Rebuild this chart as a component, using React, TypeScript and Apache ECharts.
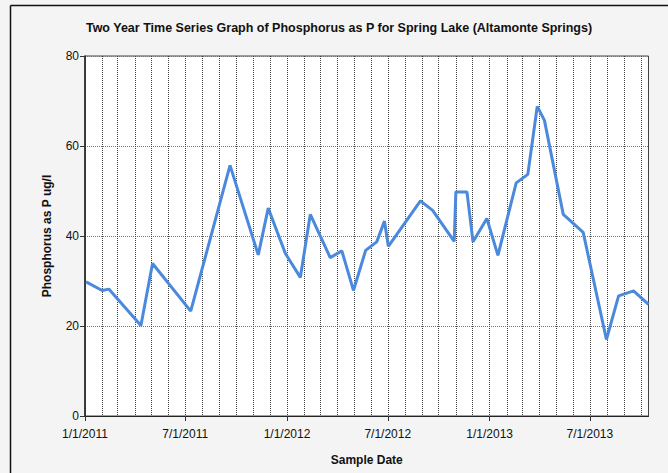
import React, { useEffect, useRef } from "react";
import * as echarts from "echarts";

const sampleDates = [
  "2011-01-03", "2011-02-01", "2011-02-13", "2011-04-12", "2011-05-03", "2011-07-11",
  "2011-09-20", "2011-11-10", "2011-11-28", "2011-12-29", "2012-01-25", "2012-02-12",
  "2012-03-19", "2012-04-09", "2012-04-30", "2012-05-22", "2012-06-11", "2012-06-25",
  "2012-07-02", "2012-08-29", "2012-09-20", "2012-10-29", "2012-11-01", "2012-11-21",
  "2012-12-02", "2012-12-27", "2013-01-16", "2013-02-18", "2013-03-11", "2013-03-28",
  "2013-04-10", "2013-05-14", "2013-06-19", "2013-07-31", "2013-08-22", "2013-09-18",
  "2013-10-15",
];
const phosphorus = [
  29.8, 27.9, 28.2, 20.1, 33.9, 23.3,
  55.7, 35.8, 46.2, 36.1, 30.8, 44.8,
  35.2, 36.7, 27.9, 36.8, 38.7, 43.3,
  37.7, 47.8, 45.7, 38.8, 49.8, 49.8,
  38.7, 43.9, 35.7, 51.8, 53.7, 68.8,
  65.7, 44.8, 40.8, 17.0, 26.7, 27.8,
  24.8,
];
const xMin = "2011-01-01";
const xMax = "2013-10-15";
const yTicks = [0, 20, 40, 60, 80];

const DAY = 24 * 3600 * 1000;
const FONT = "Liberation Sans, Arial, sans-serif";

export default function App() {
  const ref = useRef<HTMLDivElement>(null);
  useEffect(() => {
    if (!ref.current) return;
    const chart = echarts.init(ref.current, undefined, { renderer: "svg" });
    const data = sampleDates.map((d, i) => [d, phosphorus[i]]);
    chart.setOption({
      animation: false,
      backgroundColor: "#f4f4f4",
      textStyle: { fontFamily: FONT },
      graphic: [
        {
          type: "text",
          x: 339,
          y: 21,
          style: {
            text: "Two Year Time Series Graph of Phosphorus as P for Spring Lake (Altamonte Springs)",
            font: "bold 12.5px " + FONT,
            fill: "#111",
            textAlign: "center",
            textVerticalAlign: "top",
          },
        },
        { type: "line", shape: { x1: 10.5, y1: 5.5, x2: 668, y2: 5.5 }, style: { stroke: "#111", lineWidth: 1.5 } },
        { type: "line", shape: { x1: 10.5, y1: 5.5, x2: 10.5, y2: 473 }, style: { stroke: "#111", lineWidth: 1.5 } },
      ],
      grid: {
        left: 85,
        top: 56,
        width: 563.5,
        height: 360,
        show: true,
        backgroundColor: "#ffffff",
        borderColor: "#444",
        borderWidth: 1,
      },
      xAxis: [
        {
          type: "time",
          min: xMin,
          max: xMax,
          position: "bottom",
          minInterval: 28 * DAY,
          maxInterval: 31 * DAY,
          axisLine: { show: true, lineStyle: { color: "#222", width: 1 } },
          axisTick: { show: false },
          axisLabel: { show: false },
          splitLine: { show: true, lineStyle: { color: "#444", type: [1, 1], width: 1 } },
        },
        {
          type: "time",
          min: xMin,
          max: xMax,
          position: "bottom",
          minInterval: 181 * DAY,
          maxInterval: 184 * DAY,
          name: "Sample Date",
          nameLocation: "middle",
          nameGap: 38,
          nameTextStyle: { fontWeight: "bold", fontSize: 12, color: "#111", fontFamily: FONT },
          axisLine: { show: false },
          axisTick: { show: true, length: 5, lineStyle: { color: "#333" } },
          axisLabel: { formatter: "{M}/{d}/{yyyy}", color: "#111", fontSize: 12, margin: 12, fontFamily: FONT, showMinLabel: true },
          splitLine: { show: false },
        },
      ],
      yAxis: {
        type: "value",
        min: yTicks[0],
        max: yTicks[yTicks.length - 1],
        interval: 20,
        name: "Phosphorus as P ug/l",
        nameLocation: "middle",
        nameGap: 32,
        nameRotate: 90,
        nameTextStyle: { fontWeight: "bold", fontSize: 12, color: "#111", fontFamily: FONT },
        axisLine: { show: true, lineStyle: { color: "#222", width: 1.5 } },
        axisTick: { show: true, length: 5, lineStyle: { color: "#333" } },
        axisLabel: { color: "#111", fontSize: 12, margin: 6, fontFamily: FONT },
        splitLine: { show: true, lineStyle: { color: "#777", type: [1, 1], width: 1 } },
      },
      series: [
        {
          type: "line",
          xAxisIndex: 0,
          data,
          showSymbol: false,
          symbol: "none",
          lineStyle: { color: "#4a89dc", width: 3 },
        },
      ],
    });
    return () => chart.dispose();
  }, []);
  return (
    <div
      ref={ref}
      style={{ position: "fixed", left: 0, top: 0, width: 668, height: 473 }}
    />
  );
}
